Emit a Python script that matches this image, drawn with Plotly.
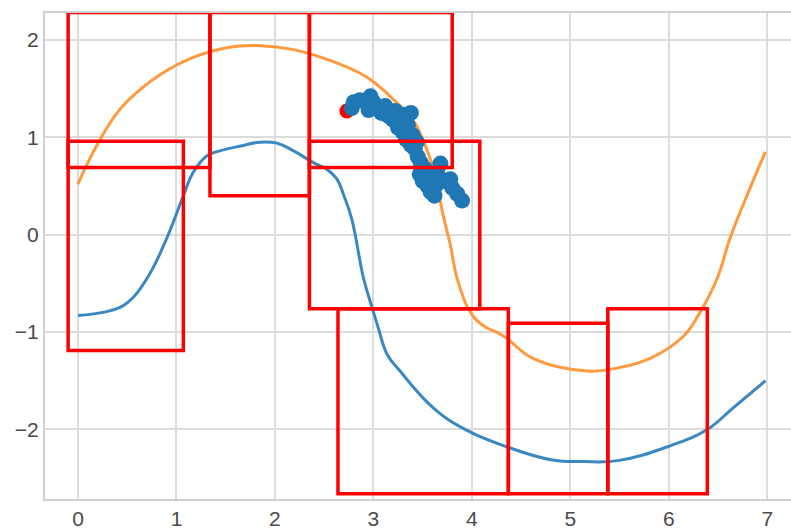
import plotly.graph_objects as go

# Smooth curves
blue_x = [0, 0.33, 0.5, 0.7, 0.9, 1.07, 1.17, 1.31, 1.44, 1.65, 1.85, 2.02, 2.19, 2.39, 2.53, 2.63,
          2.70, 2.78, 2.90, 2.99, 3.05, 3.14, 3.27, 3.61, 3.95, 4.36, 4.80, 5.13, 5.48, 5.98, 6.39,
          6.65, 6.98]
blue_y = [-0.83, -0.78, -0.70, -0.45, -0.04, 0.40, 0.64, 0.81, 0.86, 0.91, 0.95, 0.94, 0.86, 0.74,
          0.67, 0.57, 0.40, 0.16, -0.45, -0.76, -0.96, -1.23, -1.40, -1.78, -2.01, -2.18, -2.31,
          -2.33, -2.32, -2.18, -2.0, -1.78, -1.50]

orange_x = [0, 0.1, 0.22, 0.36, 0.50, 0.83, 1.17, 1.51, 1.85, 2.19, 2.53, 2.86, 3.0, 3.2, 3.4,
            3.54, 3.61, 3.66, 3.71, 3.78, 3.85, 3.98, 4.11, 4.32, 4.62, 5.17, 5.47, 5.81, 6.15,
            6.32, 6.49, 6.62, 6.78, 6.98]
orange_y = [0.52, 0.74, 0.97, 1.20, 1.37, 1.64, 1.82, 1.92, 1.94, 1.90, 1.80, 1.66, 1.57, 1.39,
            1.18, 0.88, 0.67, 0.44, 0.19, -0.10, -0.45, -0.79, -0.93, -1.04, -1.27, -1.40, -1.37,
            -1.27, -1.04, -0.79, -0.45, -0.04, 0.37, 0.85]

# Observed points
pts_x = [2.78, 2.80, 2.86, 2.92, 2.97, 3.00, 2.95, 3.03, 3.08, 3.12, 3.15, 3.20, 3.22, 3.28, 3.32,
         3.38, 3.25, 3.30, 3.35, 3.33, 3.38, 3.42, 3.40, 3.45, 3.48, 3.52, 3.47, 3.50, 3.55, 3.58,
         3.62, 3.60, 3.65, 3.68, 3.63, 3.72, 3.78, 3.80, 3.85, 3.90, 3.56, 3.44]
pts_y = [1.30, 1.36, 1.38, 1.36, 1.42, 1.36, 1.28, 1.30, 1.25, 1.32, 1.22, 1.18, 1.27, 1.20, 1.23,
         1.25, 1.10, 1.05, 1.12, 0.98, 0.92, 0.88, 1.02, 0.80, 0.74, 0.68, 0.62, 0.55, 0.50, 0.44,
         0.40, 0.58, 0.63, 0.73, 0.50, 0.55, 0.57, 0.48, 0.42, 0.35, 0.62, 0.95]

start_x = [2.73]
start_y = [1.27]

# Region boxes: x0, x1, y0, y1
box_x0 = [-0.10, 1.34, 2.35, -0.10, 2.35, 2.64, 4.37, 5.38]
box_x1 = [1.34, 2.35, 3.80, 1.07, 4.08, 4.37, 5.38, 6.39]
box_y0 = [0.69, 0.40, 0.69, -1.19, -0.76, -2.66, -2.66, -2.66]
box_y1 = [2.28, 2.28, 2.28, 0.96, 0.96, -0.76, -0.91, -0.76]

x_ticks = [0, 1, 2, 3, 4, 5, 6, 7]
y_ticks = [-2, -1, 0, 1, 2]

fig = go.Figure()
fig.add_trace(go.Scatter(x=blue_x, y=blue_y, mode="lines",
                         line=dict(color="#3a88c2", width=3, shape="spline", smoothing=1.2)))
fig.add_trace(go.Scatter(x=orange_x, y=orange_y, mode="lines",
                         line=dict(color="#ff9a3e", width=3, shape="spline", smoothing=1.2)))
fig.add_trace(go.Scatter(x=start_x, y=start_y, mode="markers",
                         marker=dict(color="red", size=15, line=dict(width=0))))
fig.add_trace(go.Scatter(x=pts_x, y=pts_y, mode="markers",
                         marker=dict(color="#1f77b4", size=16, line=dict(width=0))))

for x0, x1, y0, y1 in zip(box_x0, box_x1, box_y0, box_y1):
    fig.add_shape(type="rect", x0=x0, x1=x1, y0=y0, y1=y1,
                  line=dict(color="red", width=3.5), fillcolor="rgba(0,0,0,0)")

axis_font = dict(family="Liberation Sans Narrow, Liberation Sans, Arial", size=21, color="#4a4a4a")
fig.update_layout(
    width=791, height=530,
    margin=dict(l=45, r=0, t=13, b=28),
    paper_bgcolor="white", plot_bgcolor="white",
    showlegend=False,
    xaxis=dict(range=[-0.335, 7.24], tickvals=x_ticks, showgrid=True, gridcolor="#dcdcdc",
               gridwidth=2, zeroline=False, showline=True, linecolor="#d0d0d0", linewidth=2,
               mirror=True, tickfont=axis_font, ticks=""),
    yaxis=dict(range=[-2.714, 2.276], tickvals=y_ticks, showgrid=True, gridcolor="#dcdcdc",
               gridwidth=2, zeroline=False, showline=True, linecolor="#d0d0d0", linewidth=2,
               tickfont=axis_font, ticks="", tickformat="d"),
)

fig.write_html("out.html")
